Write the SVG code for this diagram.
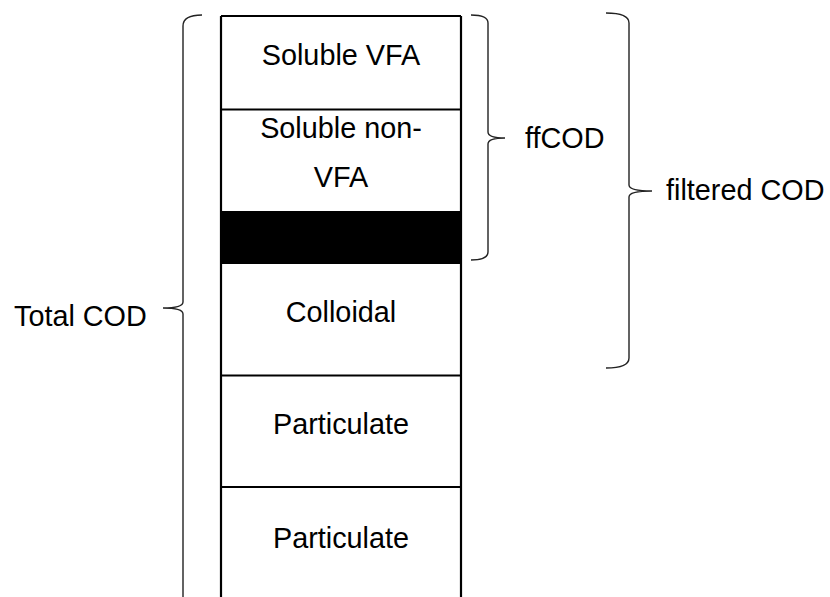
<svg xmlns="http://www.w3.org/2000/svg" width="830" height="597" viewBox="0 0 830 597">
<style>
.t{font-family:"Liberation Sans",Arial,sans-serif;font-size:28.8px;fill:#000}
.c{text-anchor:middle}
.col{stroke:#000;stroke-width:2.2;fill:none}
.br{stroke:#222;stroke-width:1.4;fill:none}
</style>
<rect x="0" y="0" width="830" height="597" fill="#fff"/>
<g id="column">
<rect x="221" y="211" width="240" height="53" fill="#000"/>
<path class="col" d="M221,16 L461,16 M221,109.5 L461,109.5 M221,375.5 L461,375.5 M221,487 L461,487 M221,16 L221,597 M461,16 L461,597"/>
</g>
<g id="soluble-vfa"><text class="t c" x="341" y="65">Soluble VFA</text></g>
<g id="soluble-non-vfa"><text class="t c" x="341" y="138">Soluble non-</text><text class="t c" x="341" y="187">VFA</text></g>
<g id="colloidal"><text class="t c" x="341" y="322">Colloidal</text></g>
<g id="particulate-1"><text class="t c" x="341" y="434">Particulate</text></g>
<g id="particulate-2"><text class="t c" x="341" y="548">Particulate</text></g>
<g id="connectors">
<path class="br" d="M202,15 Q183,15 183,26 L183,302 Q183,308 163,308 Q183,308 183,314 L183,597"/>
<path class="br" d="M471,15 Q488,15 488,23 L488,132 Q488,138 505,138 Q488,138 488,144 L488,252 Q488,260 471,260"/>
<path class="br" d="M606,13 Q629,13 629,23 L629,185 Q629,191 652,191 Q629,191 629,197 L629,358 Q629,368 606,368"/>
</g>
<g id="total-cod"><text class="t" x="14" y="326">Total COD</text></g>
<g id="ffcod"><text class="t" x="525" y="148">ffCOD</text></g>
<g id="filtered-cod"><text class="t" x="666" y="200">filtered COD</text></g>
</svg>
